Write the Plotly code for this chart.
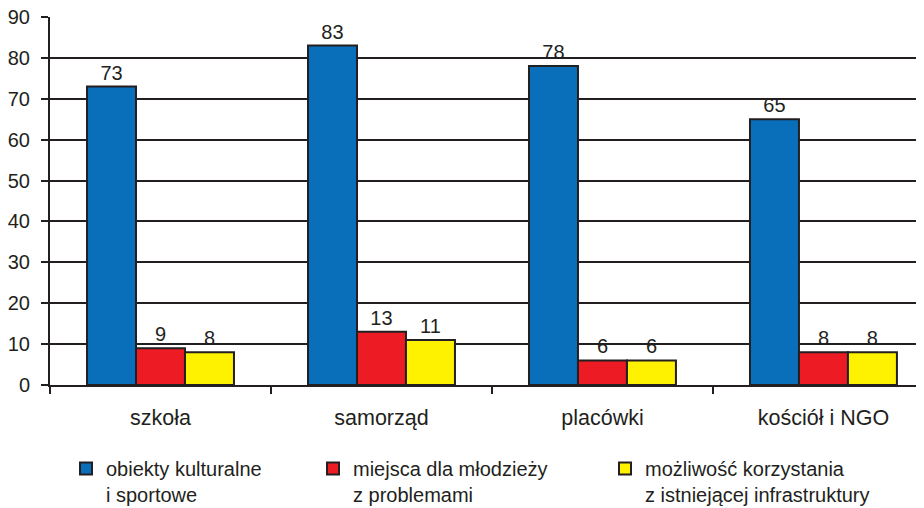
import plotly.graph_objects as go

categories = ["szkoła", "samorząd", "placówki", "kościół i NGO"]
series_names = [
    "obiekty kulturalne<br>i sportowe",
    "miejsca dla młodzieży<br>z problemami",
    "możliwość korzystania<br>z istniejącej infrastruktury",
]
obiekty = [73, 83, 78, 65]
miejsca = [9, 13, 6, 8]
mozliwosc = [8, 11, 6, 8]
y_ticks = [0, 10, 20, 30, 40, 50, 60, 70, 80, 90]

colors = ["#0a6fba", "#ed1c24", "#fff200"]
ink = "#231f20"
font_family = "Liberation Sans, Arial, sans-serif"

# The page body has an 8px margin; margins are set so the plot sits where the reference has it.
W, H = 924, 508

fig = go.Figure()
for i, (name, vals) in enumerate(zip(series_names, [obiekty, miejsca, mozliwosc])):
    fig.add_trace(go.Bar(
        x=categories, y=vals, name=name,
        marker=dict(color=colors[i], line=dict(color=ink, width=2)),
        text=vals, textposition="outside",
        textfont=dict(size=20, color=ink, family=font_family),
        cliponaxis=False,
        legend=["legend", "legend2", "legend3"][i],
    ))

leg_common = dict(
    orientation="h", xref="container", yref="container",
    yanchor="top", y=1 - 441 / H, valign="top",
    font=dict(size=20, color=ink, family=font_family),
    bgcolor="rgba(0,0,0,0)", borderwidth=0,
)

fig.update_layout(
    width=W, height=H,
    margin=dict(l=42, r=8, t=9, b=131),
    plot_bgcolor="white", paper_bgcolor="white",
    barmode="group", bargap=0.335, bargroupgap=0,
    font=dict(family=font_family, size=20, color=ink),
    legend=dict(x=58 / W, **leg_common),
    legend2=dict(x=305 / W, **leg_common),
    legend3=dict(x=597 / W, **leg_common),
    showlegend=True,
)
fig.update_xaxes(
    type="category", range=[-0.5, 3.455], automargin=False,
    showline=True, linecolor=ink, linewidth=2,
    ticks="outside", tickson="boundaries", ticklen=7, tickwidth=2, tickcolor=ink,
    ticklabelstandoff=12, ticklabeloverflow="allow",
    tickfont=dict(size=21.5, color=ink, family=font_family),
    showgrid=False,
)
fig.update_yaxes(
    range=[0, 90], tickvals=y_ticks, automargin=False,
    showline=True, linecolor=ink, linewidth=2,
    ticks="outside", ticklen=7, tickwidth=2, tickcolor=ink,
    ticklabelstandoff=7, ticklabeloverflow="allow",
    showgrid=True, gridcolor=ink, gridwidth=2,
    zeroline=False,
    tickfont=dict(size=20, color=ink, family=font_family),
)

fig.write_html("out.html")
